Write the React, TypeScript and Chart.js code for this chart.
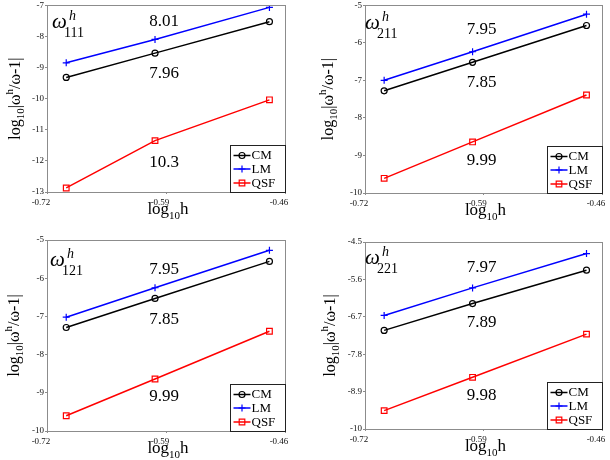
import React, { useEffect, useRef } from "react";
import { Chart, registerables } from "chart.js";

Chart.register(...registerables);

// ---------- data ----------
const xValues = [-0.699, -0.602, -0.477];
const xTicks = [-0.72, -0.59, -0.46];
const seriesNames = ["CM", "LM", "QSF"];

const cm111 = [-9.32, -8.54, -7.53];
const lm111 = [-8.85, -8.1, -7.07];
const qsf111 = [-12.87, -11.35, -10.04];
const yTicks111 = [-13, -12, -11, -10, -9, -8, -7];
const rates111 = ["8.01", "7.96", "10.3"]; // LM, CM, QSF

const cm211 = [-7.28, -6.52, -5.54];
const lm211 = [-7.0, -6.24, -5.24];
const qsf211 = [-9.61, -8.64, -7.39];
const yTicks211 = [-10, -9, -8, -7, -6, -5];
const rates211 = ["7.95", "7.85", "9.99"];

const cm121 = [-7.29, -6.53, -5.56];
const lm121 = [-7.02, -6.25, -5.27];
const qsf121 = [-9.6, -8.64, -7.39];
const yTicks121 = [-10, -9, -8, -7, -6, -5];
const rates121 = ["7.95", "7.85", "9.99"];

const cm221 = [-7.1, -6.31, -5.33];
const lm221 = [-6.66, -5.85, -4.84];
const qsf221 = [-9.46, -8.48, -7.21];
const yTicks221 = [-10, -8.9, -7.8, -6.7, -5.6, -4.5];
const rates221 = ["7.97", "7.89", "9.98"];

const panels = [
  { sub: "111", cm: cm111, lm: lm111, qsf: qsf111, yTicks: yTicks111, rates: rates111 },
  { sub: "211", cm: cm211, lm: lm211, qsf: qsf211, yTicks: yTicks211, rates: rates211 },
  { sub: "121", cm: cm121, lm: lm121, qsf: qsf121, yTicks: yTicks121, rates: rates121 },
  { sub: "221", cm: cm221, lm: lm221, qsf: qsf221, yTicks: yTicks221, rates: rates221 },
];

// ---------- layout (positions / styles) ----------
const CW = 305;
const CH = 230;
const layouts = [
  { x: 0, y: 0, l: 47, r: 285, t: 4, b: 192, omegaDx: 5, omegaDy: 23, yTitleX: 20, rateY: [-7.54, -9.2, -12.05] },
  { x: 305, y: 0, l: 60, r: 297, t: 3, b: 193, omegaDx: 0, omegaDy: 24, yTitleX: 28, rateY: [-5.66, -7.05, -9.13] },
  { x: 0, y: 230, l: 47, r: 285, t: 10, b: 201, omegaDx: 3, omegaDy: 26, yTitleX: 19, rateY: [-5.76, -7.08, -9.1] },
  { x: 305, y: 230, l: 60, r: 297, t: 12, b: 199, omegaDx: 0, omegaDy: 22, yTitleX: 30, rateY: [-5.26, -6.88, -9.02] },
];
const rateX = -0.592;
const SERIF = '"Liberation Serif", "DejaVu Serif", serif';
const colors = ["#000000", "#0000ff", "#ff0000"];
const pointStyles = ["circle", "cross", "rect"];
const pointRadii = [3, 3.5, 4];
const AXIS_GRAY = "#8c8c8c";

type Seg = { t: string; f: number; dy?: number; italic?: boolean };

function drawSegs(ctx: CanvasRenderingContext2D, segs: Seg[], x: number, y: number, center: boolean) {
  let w = 0;
  for (const s of segs) {
    ctx.font = `${s.italic ? "italic " : ""}${s.f}px ${SERIF}`;
    w += ctx.measureText(s.t).width;
  }
  let cx = center ? x - w / 2 : x;
  for (const s of segs) {
    ctx.font = `${s.italic ? "italic " : ""}${s.f}px ${SERIF}`;
    ctx.fillText(s.t, cx, y + (s.dy || 0));
    cx += ctx.measureText(s.t).width;
  }
}

const decorPlugin = {
  id: "panelDecor",
  afterDraw(chart: any, _args: any, opts: any) {
    const ctx: CanvasRenderingContext2D = chart.ctx;
    const a = chart.chartArea;
    const xs = chart.scales.x;
    const ys = chart.scales.y;
    const panel = opts.panel;
    const lay = opts.layout;
    ctx.save();
    ctx.fillStyle = "#000";
    ctx.textBaseline = "alphabetic";
    ctx.textAlign = "left";

    // plot box
    ctx.strokeStyle = AXIS_GRAY;
    ctx.lineWidth = 1;
    ctx.strokeRect(Math.round(a.left) + 0.5, Math.round(a.top) + 0.5, Math.round(a.right - a.left), Math.round(a.bottom - a.top));

    // omega label
    const ox = a.left + lay.omegaDx;
    const oy = a.top + lay.omegaDy;
    ctx.font = `italic 21px ${SERIF}`;
    ctx.fillText("ω", ox, oy);
    ctx.font = `italic 14px ${SERIF}`;
    ctx.fillText("h", ox + 17, oy - 8);
    ctx.font = `14px ${SERIF}`;
    ctx.fillText(panel.sub, ox + 12, oy + 9);

    // rate annotations
    ctx.font = `17px ${SERIF}`;
    ctx.textAlign = "center";
    ctx.textBaseline = "middle";
    panel.rates.forEach((r: string, i: number) => {
      ctx.fillText(r, xs.getPixelForValue(rateX), ys.getPixelForValue(lay.rateY[i]));
    });

    // x title
    ctx.textAlign = "left";
    ctx.textBaseline = "alphabetic";
    drawSegs(
      ctx,
      [
        { t: "log", f: 17 },
        { t: "10", f: 11, dy: 5 },
        { t: "h", f: 17 },
      ],
      (a.left + a.right) / 2 + 2,
      a.bottom + 22,
      true
    );

    // y title
    ctx.save();
    ctx.translate(lay.yTitleX, (a.top + a.bottom) / 2);
    ctx.rotate(-Math.PI / 2);
    drawSegs(
      ctx,
      [
        { t: "log", f: 16 },
        { t: "10", f: 11, dy: 4 },
        { t: "|ω", f: 16 },
        { t: "h", f: 11, dy: -7 },
        { t: "/ω-1|", f: 16 },
      ],
      0,
      0,
      true
    );
    ctx.restore();

    // legend
    const lw = 55;
    const lh = 47;
    const lx = Math.round(a.right - lw) + 0.5;
    const ly = Math.round(a.bottom - lh) + 0.5;
    ctx.fillStyle = "#ffffff";
    ctx.fillRect(lx, ly, lw, lh);
    ctx.strokeStyle = "#222";
    ctx.lineWidth = 1;
    ctx.strokeRect(lx, ly, lw, lh);
    const rows = [10, 23.5, 37.5];
    seriesNames.forEach((name, i) => {
      const ry = ly + rows[i];
      ctx.strokeStyle = colors[i];
      ctx.lineWidth = 1.5;
      ctx.beginPath();
      ctx.moveTo(lx + 3, ry);
      ctx.lineTo(lx + 20, ry);
      ctx.stroke();
      ctx.lineWidth = 1.2;
      const mx = lx + 11.5;
      ctx.beginPath();
      if (i === 0) {
        ctx.arc(mx, ry, 3, 0, Math.PI * 2);
      } else if (i === 1) {
        ctx.moveTo(mx - 3.5, ry);
        ctx.lineTo(mx + 3.5, ry);
        ctx.moveTo(mx, ry - 3.5);
        ctx.lineTo(mx, ry + 3.5);
      } else {
        ctx.rect(mx - 2.8, ry - 2.8, 5.6, 5.6);
      }
      ctx.stroke();
      ctx.fillStyle = "#000";
      ctx.font = `13px ${SERIF}`;
      ctx.textBaseline = "middle";
      ctx.fillText(name, lx + 21, ry + 0.5);
    });
    ctx.restore();
  },
};

function Panel({ index }: { index: number }) {
  const ref = useRef<HTMLCanvasElement | null>(null);
  const panel = panels[index];
  const lay = layouts[index];
  useEffect(() => {
    if (!ref.current) return;
    const series = [panel.cm, panel.lm, panel.qsf];
    const chart = new Chart(ref.current, {
      type: "line",
      data: {
        datasets: series.map((vals, i) => ({
          label: seriesNames[i],
          data: xValues.map((x, k) => ({ x, y: vals[k] })),
          borderColor: colors[i],
          backgroundColor: "rgba(0,0,0,0)",
          borderWidth: 1.5,
          pointStyle: pointStyles[i] as any,
          pointRadius: pointRadii[i],
          pointBorderWidth: 1.2,
          pointBorderColor: colors[i],
          pointBackgroundColor: "rgba(0,0,0,0)",
          tension: 0,
          fill: false,
        })),
      },
      options: {
        responsive: false,
        animation: false,
        events: [],
        layout: { padding: { left: 0, top: lay.t, right: CW - lay.r, bottom: 0 } },
        plugins: {
          legend: { display: false },
          title: { display: false },
          tooltip: { enabled: false },
          panelDecor: { panel, layout: lay },
        } as any,
        scales: {
          x: {
            type: "linear",
            min: -0.72,
            max: -0.46,
            afterBuildTicks: (s: any) => {
              s.ticks = xTicks.map((v) => ({ value: v }));
            },
            afterFit: (s: any) => {
              s.height = CH - lay.b;
              s.paddingLeft = 0;
              s.paddingRight = 0;
            },
            ticks: {
              autoSkip: false,
              maxRotation: 0,
              padding: 3,
              labelOffset: -6,
              color: "#111",
              font: { family: SERIF, size: 9 },
              callback: (v: any) => String(v),
            },
            grid: { drawOnChartArea: false, drawTicks: true, tickLength: 2, color: AXIS_GRAY },
            border: { display: false },
          },
          y: {
            type: "linear",
            min: panel.yTicks[0],
            max: panel.yTicks[panel.yTicks.length - 1],
            afterBuildTicks: (s: any) => {
              s.ticks = panel.yTicks.map((v) => ({ value: v }));
            },
            afterFit: (s: any) => {
              s.width = lay.l;
              s.paddingTop = 0;
              s.paddingBottom = 0;
            },
            ticks: {
              autoSkip: false,
              padding: 1,
              color: "#111",
              font: { family: SERIF, size: 9 },
              callback: (v: any) => String(v),
            },
            grid: { drawOnChartArea: false, drawTicks: true, tickLength: 2, color: AXIS_GRAY },
            border: { display: false },
          },
        },
      },
      plugins: [decorPlugin as any],
    });
    return () => chart.destroy();
  }, [index]);
  return (
    <canvas
      ref={ref}
      width={CW}
      height={CH}
      style={{ position: "absolute", left: lay.x, top: lay.y, width: CW, height: CH, display: "block" }}
    />
  );
}

export default function App() {
  return (
    <div style={{ position: "absolute", left: 0, top: 0, width: 610, height: 460, background: "#fff", overflow: "hidden" }}>
      {panels.map((_, i) => (
        <Panel key={i} index={i} />
      ))}
    </div>
  );
}
